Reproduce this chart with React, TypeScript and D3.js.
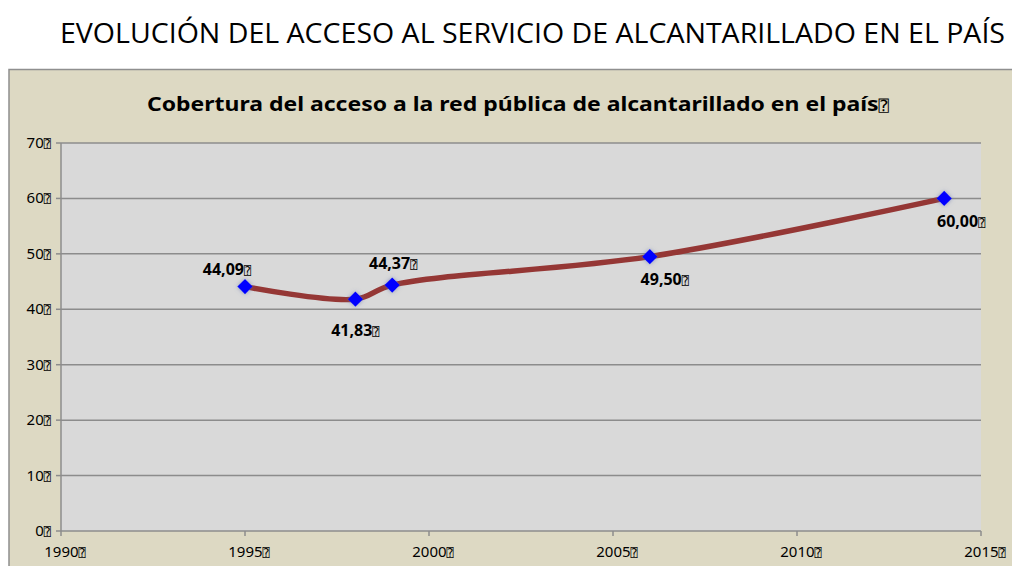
import React from "react";
import * as d3 from "d3";

const years = [1995, 1998, 1999, 2006, 2014];
const coverage = [44.09, 41.83, 44.37, 49.5, 60.0];
const valueLabels = ["44,09", "41,83", "44,37", "49,50", "60,00"];
const xTicks = [1990, 1995, 2000, 2005, 2010, 2015];
const yTicks = [0, 10, 20, 30, 40, 50, 60, 70];
const mainTitle = "EVOLUCIÓN DEL ACCESO AL SERVICIO DE ALCANTARILLADO EN EL PAÍS";
const chartTitle = "Cobertura del acceso a la red pública de alcantarillado en el país";
const BOX = "\u2370";

// label placement offsets relative to each marker (layout only)
const labelOffsets: [number, number][] = [
  [-18, -12],
  [0, 37],
  [1, -16],
  [15, 28],
  [17, 29],
];

const W = 1012;
const H = 566;
const left = 61, right = 981, top = 143, bottom = 531;

export default function App() {
  const x = d3.scaleLinear().domain([1990, 2015]).range([left, right]);
  const y = d3.scaleLinear().domain([0, 70]).range([bottom, top]);
  const pts: [number, number][] = years.map((yr, i) => [x(yr), y(coverage[i])]);
  const line = d3.line().curve(d3.curveCatmullRom.alpha(0.5))(pts) || "";
  const diamond = d3.symbol().type(d3.symbolDiamond2).size(150)() || "";
  const tickFont = "'Noto Sans', 'DejaVu Sans', sans-serif";
  const boxFont = "'DejaVu Sans Mono', monospace";

  return (
    <svg width={W} height={H} style={{ position: "absolute", left: 0, top: 0, display: "block" }}>
      <defs>
        <filter id="glow" x="-60%" y="-60%" width="220%" height="220%">
          <feGaussianBlur in="SourceAlpha" stdDeviation="2.2" result="b" />
          <feFlood floodColor="#5a6aa8" floodOpacity="0.6" />
          <feComposite in2="b" operator="in" result="s" />
          <feMerge>
            <feMergeNode in="s" />
            <feMergeNode in="SourceGraphic" />
          </feMerge>
        </filter>
      </defs>
      <rect x={0} y={0} width={W} height={H} fill="#ffffff" />
      <text
        x={60}
        y={43}
        fontFamily="'Open Sans', 'Noto Sans', sans-serif"
        fontSize={27}
        fontWeight={500}
        textLength={945}
        lengthAdjust="spacingAndGlyphs"
        fill="#000"
      >
        {mainTitle}
      </text>
      {/* chart panel */}
      <rect x={9} y={69.5} width={W} height={H} fill="#ddd9c3" stroke="#8f8f8f" strokeWidth={1.5} />
      <text
        x={518}
        y={111}
        textAnchor="middle"
        fontFamily={tickFont}
        fontWeight="bold"
        fontSize={20}
        textLength={742}
        lengthAdjust="spacingAndGlyphs"
        fill="#000"
      >
        {chartTitle}
        <tspan fontSize={15} fontWeight="normal" fontFamily={boxFont}>{BOX}</tspan>
      </text>
      {/* plot area */}
      <rect x={left} y={top} width={right - left} height={bottom - top} fill="#d9d9d9" />
      {yTicks.map((t) => (
        <g key={"y" + t}>
          {t > 0 && <line x1={left} x2={right} y1={y(t)} y2={y(t)} stroke="#8c8c8c" strokeWidth={1.5} />}
          <line x1={left - 5} x2={left} y1={y(t)} y2={y(t)} stroke="#8c8c8c" strokeWidth={1.5} />
          <text x={51} y={y(t) + 5} textAnchor="end" fontFamily={tickFont} fontSize={15} fill="#000">
            {t}
            <tspan fontSize={12} fontFamily={boxFont}>{BOX}</tspan>
          </text>
        </g>
      ))}
      <line x1={left} x2={left} y1={top} y2={bottom} stroke="#8c8c8c" strokeWidth={1.5} />
      <line x1={left} x2={right} y1={bottom} y2={bottom} stroke="#8c8c8c" strokeWidth={1.5} />
      {xTicks.map((t) => (
        <g key={"x" + t}>
          <line x1={x(t)} x2={x(t)} y1={bottom} y2={bottom + 5} stroke="#8c8c8c" strokeWidth={1.5} />
          <text x={x(t) + 4} y={557} textAnchor="middle" fontFamily={tickFont} fontSize={15} fill="#000">
            {t}
            <tspan fontSize={12} fontFamily={boxFont}>{BOX}</tspan>
          </text>
        </g>
      ))}
      <path d={line} fill="none" stroke="#953735" strokeWidth={5.5} strokeLinecap="round" strokeLinejoin="round" />
      {pts.map(([px, py], i) => (
        <path key={"m" + i} d={diamond} transform={`translate(${px},${py})`} fill="#0000ff" filter="url(#glow)" />
      ))}
      {pts.map(([px, py], i) => {
        const [dx, dy] = labelOffsets[i];
        return (
          <text key={"l" + i} x={px + dx} y={py + dy} textAnchor="middle" fontFamily={tickFont} fontWeight="bold" fontSize={16} fill="#000">
            {valueLabels[i]}
            <tspan fontSize={12} fontWeight="normal" fontFamily={boxFont}>{BOX}</tspan>
          </text>
        );
      })}
    </svg>
  );
}
